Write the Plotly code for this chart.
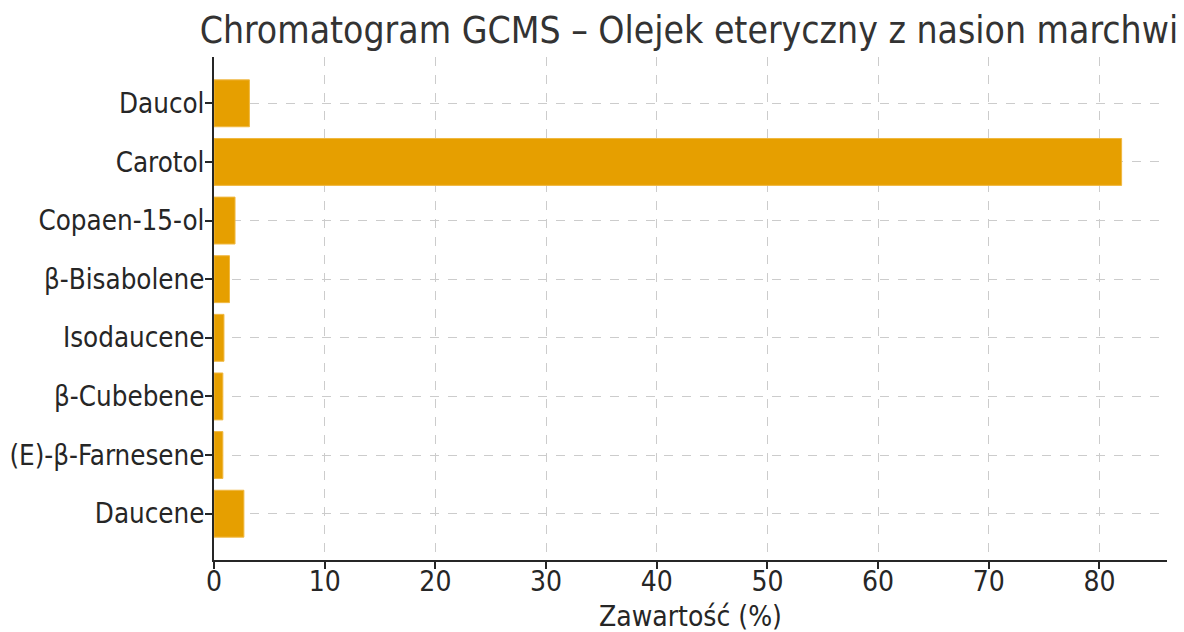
import plotly.graph_objects as go

categories = ["Daucene", "(E)-β-Farnesene", "β-Cubebene", "Isodaucene",
              "β-Bisabolene", "Copaen-15-ol", "Carotol", "Daucol"]
values = [2.7, 0.8, 0.8, 0.9, 1.4, 1.9, 82.0, 3.2]
x_ticks = [0, 10, 20, 30, 40, 50, 60, 70, 80]

FONT = "DejaVu Sans Condensed, DejaVu Sans"
TXT = "#262626"

fig = go.Figure(go.Bar(
    y=categories, x=values, orientation="h",
    marker=dict(color="#E69F00", line=dict(color="#F0B840", width=1)),
    width=0.8,
))

fig.update_layout(
    width=1176, height=624,
    margin=dict(l=206, r=17, t=49, b=72, autoexpand=False),
    paper_bgcolor="white", plot_bgcolor="white",
    showlegend=False,
    title=dict(text="Chromatogram GCMS – Olejek eteryczny z nasion marchwi",
               x=0.579, xanchor="center", y=0.965, yanchor="middle",
               font=dict(family=FONT, size=37, color="#333333")),
    font=dict(family=FONT, color=TXT),
    annotations=[dict(text="Zawartość (%)", xref="paper", yref="paper",
                      x=0.5, y=-0.113, xanchor="center", yanchor="middle",
                      showarrow=False, font=dict(size=28, color=TXT))],
)
fig.update_xaxes(
    range=[0, 86.1], tickvals=x_ticks, automargin=False,
    tickfont=dict(size=28, color=TXT), ticklabelstandoff=-12,
    showline=True, linecolor="#262626", linewidth=2,
    ticks="outside", ticklen=7, tickwidth=1.5, tickcolor="#262626",
    showgrid=True, gridcolor="#cccccc", griddash="dash", gridwidth=1,
    zeroline=False, mirror=False,
)
fig.update_yaxes(
    range=[-0.79, 7.79], automargin=False,
    tickfont=dict(size=27.5, color=TXT), ticklabelstandoff=-5,
    showline=True, linecolor="#262626", linewidth=2,
    ticks="outside", ticklen=7, tickwidth=1.5, tickcolor="#262626",
    showgrid=True, gridcolor="#cccccc", griddash="dash", gridwidth=1,
    zeroline=False,
)

fig.write_html("out.html")
